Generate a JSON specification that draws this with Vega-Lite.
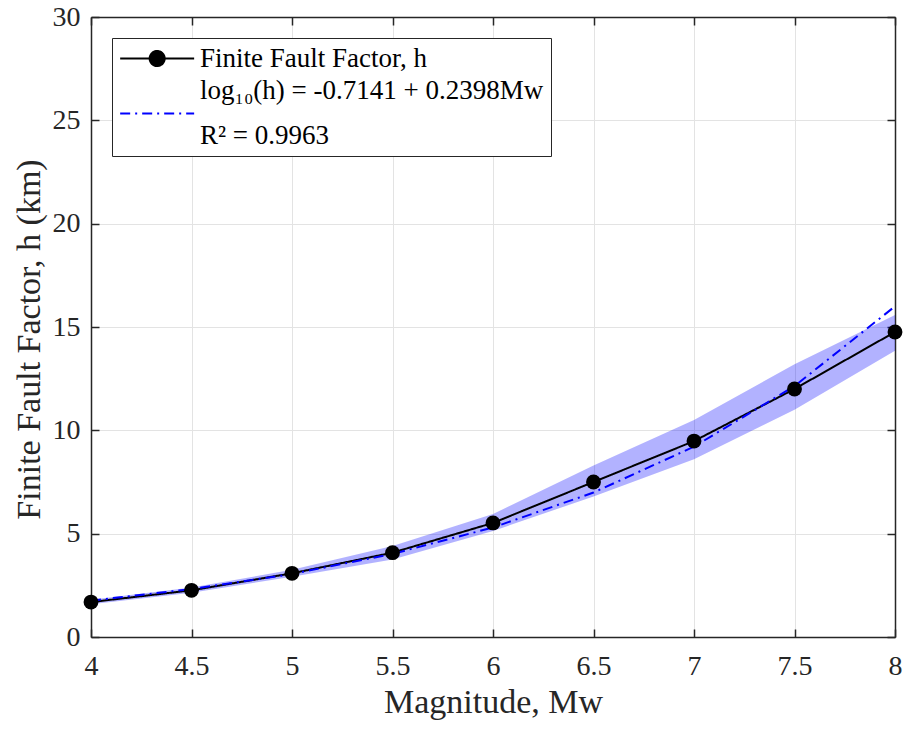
{
  "$schema": "https://vega.github.io/schema/vega-lite/v6.json",
  "width": 804,
  "height": 620,
  "autosize": {"type": "none"},
  "padding": {"left": 91, "top": 17, "right": 9, "bottom": 97},
  "background": "white",
  "config": {
    "font": "Liberation Serif",
    "view": {"stroke": null},
    "axis": {
      "domainColor": "#262626",
      "domainWidth": 1.5,
      "tickColor": "#262626",
      "tickWidth": 1.5,
      "tickSize": -8,
      "labelFont": "Liberation Serif",
      "labelFontSize": 28,
      "labelColor": "#262626",
      "titleFont": "Liberation Serif",
      "titleFontSize": 34,
      "titleFontWeight": "normal",
      "titleColor": "#262626",
      "gridColor": "#e3e3e3",
      "gridWidth": 1
    }
  },
  "datasets": {
    "ff": [
      {"M": 4.0, "h": 1.69, "fit": 1.76, "lo": 1.58, "hi": 1.80},
      {"M": 4.5, "h": 2.26, "fit": 2.32, "lo": 2.14, "hi": 2.40},
      {"M": 5.0, "h": 3.08, "fit": 3.05, "lo": 2.92, "hi": 3.25},
      {"M": 5.5, "h": 4.08, "fit": 4.02, "lo": 3.75, "hi": 4.40},
      {"M": 6.0, "h": 5.52, "fit": 5.30, "lo": 5.13, "hi": 5.95},
      {"M": 6.5, "h": 7.50, "fit": 6.99, "lo": 6.80, "hi": 8.30},
      {"M": 7.0, "h": 9.48, "fit": 9.21, "lo": 8.60, "hi": 10.50},
      {"M": 7.5, "h": 12.00, "fit": 12.14, "lo": 11.00, "hi": 13.20},
      {"M": 8.0, "h": 14.76, "fit": 16.00, "lo": 13.85, "hi": 15.58}
    ]
  },
  "data": {"name": "ff"},
  "resolve": {"axis": {"x": "independent", "y": "independent"}},
  "layer": [
    {
      "mark": {"type": "area", "color": "#0000ff", "opacity": 0.3},
      "encoding": {
        "x": {
          "field": "M", "type": "quantitative",
          "scale": {"domain": [4, 8], "nice": false, "zero": false},
          "axis": {"orient": "bottom", "values": [4, 4.5, 5, 5.5, 6, 6.5, 7, 7.5, 8], "format": "~g", "title": "Magnitude, Mw", "labelPadding": 23, "titlePadding": 5, "grid": true, "labelFlush": false, "labelOverlap": false}
        },
        "y": {
          "field": "lo", "type": "quantitative",
          "scale": {"domain": [0, 30], "nice": false},
          "axis": {"orient": "left", "values": [0, 5, 10, 15, 20, 25, 30], "format": "~g", "title": "Finite Fault Factor, h (km)", "labelPadding": 19, "titlePadding": 6, "titleY": 322, "grid": true, "labelFlush": false, "labelOverlap": false}
        },
        "y2": {"field": "hi"}
      }
    },
    {
      "transform": [{"fold": ["h", "fit"], "as": ["series", "val"]}],
      "mark": {"type": "line", "strokeWidth": 2},
      "encoding": {
        "x": {"field": "M", "type": "quantitative", "axis": null},
        "y": {"field": "val", "type": "quantitative", "axis": null},
        "color": {
          "field": "series", "type": "nominal",
          "scale": {"domain": ["h", "fit"], "range": ["#000000", "#0000ff"]},
          "legend": {
            "title": null,
            "orient": "top-left",
            "offset": 21,
            "padding": 7,
            "strokeColor": "#262626",
            "fillColor": "white",
            "symbolSize": 608,
            "symbolStrokeWidth": 2,
            "labelFont": "Liberation Serif",
            "labelFontSize": 27,
            "labelColor": "#000000",
            "labelLimit": 600,
            "labelOffset": 54,
            "rowPadding": 4,
            "labelExpr": "datum.value === 'fit' ? ['log₁₀(h) = -0.7141 + 0.2398Mw', 'R² = 0.9963'] : 'Finite Fault Factor, h'",
            "encode": {
              "symbols": {"update": {
                "shape": {"signal": "datum.value === 'h' ? 'M-1,0H5M2.61,0A0.61,0.61,0,1,1,1.39,0A0.61,0.61,0,1,1,2.61,0Z' : 'M-1,0H5'"},
                "fill": {"value": "#000000"}
              }},
              "labels": {"update": {
                "lineHeight": {"value": 45},
                "dy": {"signal": "datum.value === 'fit' ? -23 : 0"}
              }}
            }
          }
        },
        "strokeDash": {
          "field": "series", "type": "nominal",
          "scale": {"domain": ["h", "fit"], "range": [[1, 0], [10, 5, 2, 5]]},
          "legend": null
        }
      }
    },
    {
      "mark": {"type": "circle", "color": "#000000", "size": 220, "opacity": 1},
      "encoding": {
        "x": {"field": "M", "type": "quantitative", "axis": null},
        "y": {"field": "h", "type": "quantitative", "axis": null}
      }
    },
    {
      "mark": {"type": "point", "opacity": 0},
      "encoding": {
        "x": {"field": "M", "type": "quantitative", "axis": {"orient": "top", "values": [4, 4.5, 5, 5.5, 6, 6.5, 7, 7.5, 8], "labels": false, "title": null, "grid": false}},
        "y": {"field": "h", "type": "quantitative", "axis": {"orient": "right", "values": [0, 5, 10, 15, 20, 25, 30], "labels": false, "title": null, "grid": false}}
      }
    }
  ]
}
